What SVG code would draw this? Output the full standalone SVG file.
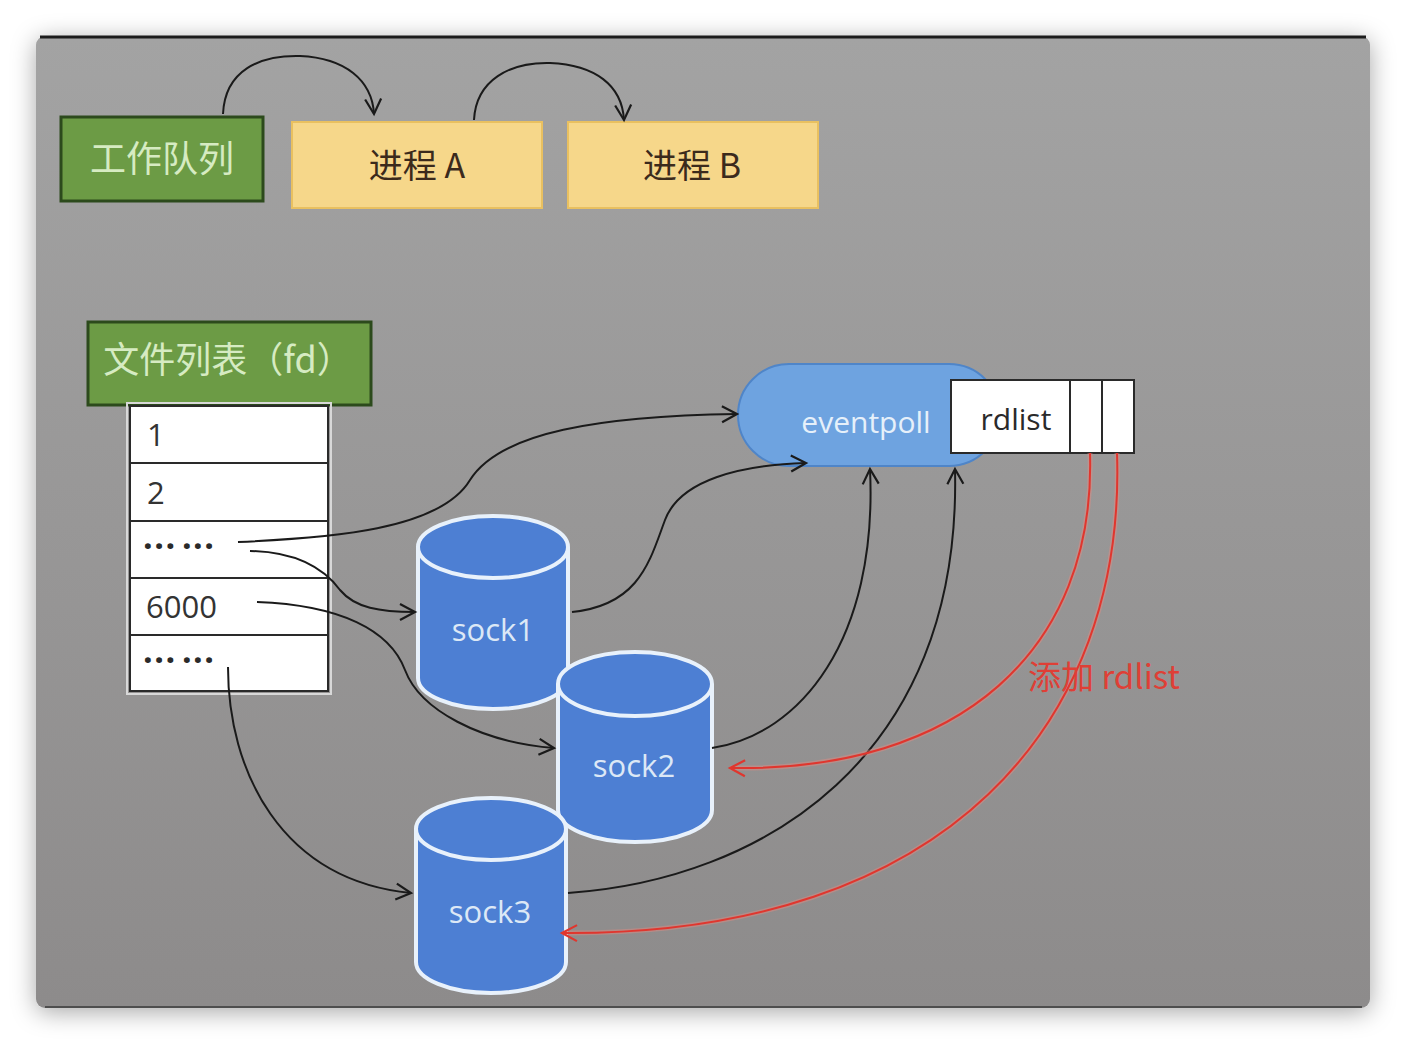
<svg xmlns="http://www.w3.org/2000/svg" width="1406" height="1044" viewBox="0 0 1406 1044">
<defs>
<linearGradient id="bg" x1="0" y1="0" x2="0" y2="1">
<stop offset="0" stop-color="#a3a3a3"/>
<stop offset="1" stop-color="#8d8b8b"/>
</linearGradient>
<filter id="sh" x="-10%" y="-10%" width="120%" height="120%">
<feDropShadow dx="0" dy="4" stdDeviation="12" flood-color="#000" flood-opacity="0.35"/>
</filter>
<marker id="ab" viewBox="0 0 20 20" refX="17" refY="10" markerWidth="20" markerHeight="20" markerUnits="userSpaceOnUse" orient="auto">
<path d="M2,2 L17,10 L2,18" fill="none" stroke="#1a1a1a" stroke-width="2.2"/>
</marker>
<marker id="ar" viewBox="0 0 20 20" refX="17" refY="10" markerWidth="20" markerHeight="20" markerUnits="userSpaceOnUse" orient="auto">
<path d="M2,2 L17,10 L2,18" fill="none" stroke="#e0362e" stroke-width="2.2"/>
</marker>
</defs>
<style>
.green{fill:#6c9b45;stroke:#2c4a1c;stroke-width:3}
.gtxt{font-family:"Noto Sans CJK SC",sans-serif;fill:#d6ebc2;font-size:36px}
.yellow{fill:#f6d78a;stroke:#e9c060;stroke-width:2}
.ytxt{font-family:"Noto Sans CJK SC",sans-serif;fill:#3b2a1c;font-size:34px}
.cell{fill:#ffffff;stroke:#2a2a2a;stroke-width:2}
.ctxt{font-family:"Open Sans","Noto Sans CJK SC",sans-serif;fill:#333;font-size:31px}
.dots{font-family:"Open Sans",sans-serif;fill:#2a2a2a;font-size:34px;font-weight:bold;letter-spacing:1.5px;word-spacing:-5px}
.cyl{fill:#4d7fd3;stroke:#e8f1fb;stroke-width:4}
.stxt{font-family:"Open Sans",sans-serif;fill:#dce8f6;font-size:31px}
.blk{fill:none;stroke:#1a1a1a;stroke-width:2;marker-end:url(#ab)}
.red{fill:none;stroke:#e0362e;stroke-width:2;marker-end:url(#ar)}
.redh{fill:none;stroke:#f08a80;stroke-width:5;opacity:0.4}
</style>

<rect x="36" y="36" width="1334" height="972" rx="9" fill="url(#bg)" filter="url(#sh)"/>
<path d="M40,37 L1366,37" stroke="#1c1c1c" stroke-width="3"/>
<path d="M45,1007 L1362,1007" stroke="#3a3a3a" stroke-width="1.5"/>

<g id="workqueue">
<rect class="green" x="61" y="117" width="202" height="84"/>
<text class="gtxt" x="162" y="172" text-anchor="middle">工作队列</text>
</g>
<g id="procA">
<rect class="yellow" x="292" y="122" width="250" height="86"/>
<text class="ytxt" x="417" y="178" text-anchor="middle">进程 A</text>
</g>
<g id="procB">
<rect class="yellow" x="568" y="122" width="250" height="86"/>
<text class="ytxt" x="692" y="178" text-anchor="middle">进程 B</text>
</g>

<g id="filelist">
<rect class="green" x="88" y="322" width="283" height="83"/>
<text class="gtxt" x="228" y="373" text-anchor="middle" font-size="34">文件列表（fd）</text>
</g>
<g id="fdtable">
<rect x="127" y="403" width="204" height="291" fill="none" stroke="#d8d8d8" stroke-width="2"/>
<rect class="cell" x="130" y="406" width="198" height="57"/>
<rect class="cell" x="130" y="463" width="198" height="58"/>
<rect class="cell" x="130" y="521" width="198" height="57"/>
<rect class="cell" x="130" y="578" width="198" height="57"/>
<rect class="cell" x="130" y="635" width="198" height="56"/>
<text class="ctxt" x="147" y="446">1</text>
<text class="ctxt" x="147" y="504">2</text>
<text class="dots" x="143" y="558">··· ···</text>
<text class="ctxt" x="146" y="618">6000</text>
<text class="dots" x="143" y="672">··· ···</text>
</g>

<g id="eventpoll">
<rect x="738" y="364" width="262" height="102" rx="51" fill="#6ea3e0" stroke="#4f85c8" stroke-width="2"/>
<text x="866" y="433" text-anchor="middle" font-family="Open Sans,sans-serif" font-size="30" fill="#e6f0fa">eventpoll</text>
</g>
<g id="rdlist">
<rect class="cell" x="951" y="380" width="119" height="73"/>
<rect class="cell" x="1070" y="380" width="32" height="73"/>
<rect class="cell" x="1102" y="380" width="32" height="73"/>
<text x="1016" y="430" text-anchor="middle" font-family="Open Sans,sans-serif" font-size="30" fill="#2a2a2a">rdlist</text>
</g>

<g id="sock1">
<path class="cyl" d="M418,547 L418,678 A75,31 0 0 0 568,678 L568,547 A75,31 0 0 0 418,547 Z"/>
<path d="M418,547 A75,31 0 0 0 568,547" fill="none" stroke="#e8f1fb" stroke-width="4"/>
<text class="stxt" x="493" y="641" text-anchor="middle">sock1</text>
</g>
<g id="sock2">
<path class="cyl" d="M558,684 L558,810 A77,32 0 0 0 712,810 L712,684 A77,32 0 0 0 558,684 Z"/>
<path d="M558,684 A77,32 0 0 0 712,684" fill="none" stroke="#e8f1fb" stroke-width="4"/>
<text class="stxt" x="634" y="777" text-anchor="middle">sock2</text>
</g>
<g id="sock3">
<path class="cyl" d="M416,829 L416,962 A75,31 0 0 0 566,962 L566,829 A75,31 0 0 0 416,829 Z"/>
<path d="M416,829 A75,31 0 0 0 566,829" fill="none" stroke="#e8f1fb" stroke-width="4"/>
<text class="stxt" x="490" y="923" text-anchor="middle">sock3</text>
</g>

<g id="connectors">
<path class="blk" d="M223,114 C225,70 260,55 300,56 C345,58 372,80 374,114"/>
<path class="blk" d="M474,120 C476,80 510,62 550,63 C595,65 622,85 624,120"/>
<path class="blk" d="M238,542 C330,538 440,530 470,480 C500,432 600,416 737,414"/>
<path class="blk" d="M250,551 C300,552 325,570 340,590 C355,608 380,612 415,612"/>
<path class="blk" d="M257,602 C340,605 390,630 405,670 C420,710 480,742 554,748"/>
<path class="blk" d="M228,667 C228,770 280,880 411,893"/>
<path class="blk" d="M572,612 C640,605 650,560 665,520 C680,480 740,465 806,463"/>
<path class="blk" d="M712,748 C800,735 878,640 870,469"/>
<path class="blk" d="M568,893 C760,880 962,760 955,469"/>
<path class="redh" d="M1090,453 C1096,650 960,772 730,768"/>
<path class="redh" d="M1117,453 C1126,720 950,936 562,933"/>
<path class="red" d="M1090,453 C1096,650 960,772 730,768"/>
<path class="red" d="M1117,453 C1126,720 950,936 562,933"/>
<text x="1028" y="689" font-family="Noto Sans CJK SC,sans-serif" font-size="33" fill="#df3f36">添加 rdlist</text>
</g>
</svg>
